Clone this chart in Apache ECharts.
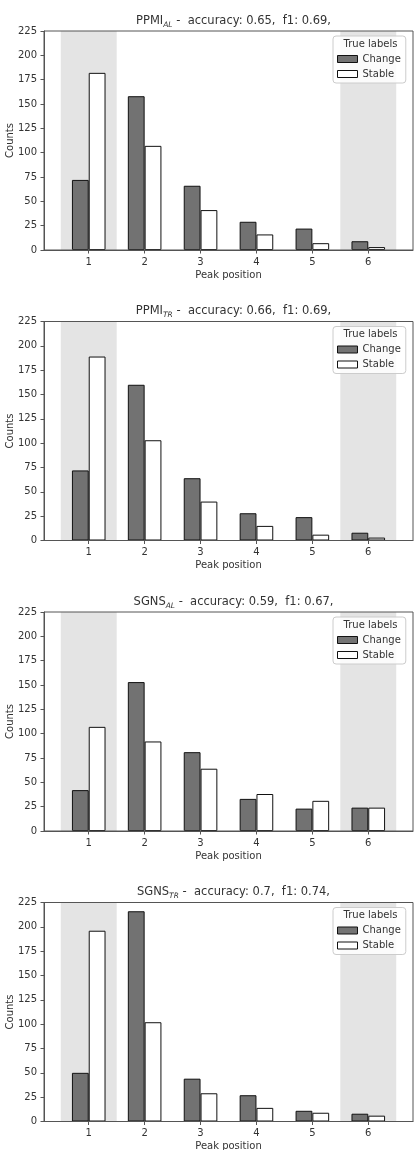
<!DOCTYPE html>
<html>
<head>
<meta charset="utf-8">
<script src="https://cdn.jsdelivr.net/npm/echarts@6/dist/echarts.min.js"></script>
<style>
  html, body { margin: 0; padding: 0; background: #fff; }
  #main { width: 419px; height: 1150px; }
</style>
</head>
<body>
<div id="main"></div>
<script>
// 数据
const peaks = [1, 2, 3, 4, 5, 6];
const yTicks = [0, 225, 25]; // min, max, interval
const spans = [[0.5, 1.5], [5.5, 6.5]];
const legendNames = ['Change', 'Stable'];

const models = ['PPMI', 'PPMI', 'SGNS', 'SGNS'];
const subs = ['AL', 'TR', 'AL', 'TR'];
const accuracy = ['0.65', '0.66', '0.59', '0.7'];
const f1 = ['0.69', '0.69', '0.67', '0.74'];

const ppmiAlChange = [72, 158, 66, 29, 22, 9];
const ppmiAlStable = [182, 107, 41, 16, 7, 3];
const ppmiTrChange = [72, 160, 64, 28, 24, 8];
const ppmiTrStable = [189, 103, 40, 15, 6, 3];
const sgnsAlChange = [42, 153, 81, 33, 23, 24];
const sgnsAlStable = [107, 92, 64, 38, 31, 24];
const sgnsTrChange = [50, 216, 44, 27, 11, 8];
const sgnsTrStable = [196, 102, 29, 14, 9, 6];

const changeData = [ppmiAlChange, ppmiTrChange, sgnsAlChange, sgnsTrChange];
const stableData = [ppmiAlStable, ppmiTrStable, sgnsAlStable, sgnsTrStable];

// 布局
const font = 'DejaVu Sans';
const gridTops = [31, 321.5, 612, 902.5];
const gridLeft = 44;
const gridWidth = 369;
const gridHeight = 219;
const spineColor = '#555';
const textColor = '#333';

const chart = echarts.init(document.getElementById('main'), null, { renderer: 'canvas' });

let grids = [], xAxes = [], yAxes = [], series = [], titles = [], legends = [], graphics = [];

gridTops.forEach((top, i) => {
  grids.push({
    left: gridLeft, top: top, width: gridWidth, height: gridHeight,
    containLabel: false, outerBoundsMode: 'none',
    show: true, z: 10,
    backgroundColor: 'transparent',
    borderColor: spineColor, borderWidth: 1
  });

  xAxes.push({
    type: 'value', gridIndex: i,
    min: 0.2, max: 6.8,
    name: 'Peak position', nameLocation: 'middle', nameGap: 20, nameMoveOverlap: false,
    nameTextStyle: { fontFamily: font, fontSize: 10, color: textColor },
    splitLine: { show: false },
    axisLine: { show: true, lineStyle: { color: spineColor, width: 1 } },
    axisTick: { show: true, length: 3.5, customValues: peaks, lineStyle: { color: spineColor } },
    axisLabel: { customValues: peaks, margin: 7, fontFamily: font, fontSize: 10, color: textColor }
  });

  yAxes.push({
    type: 'value', gridIndex: i,
    min: yTicks[0], max: yTicks[1], interval: yTicks[2],
    name: 'Counts', nameLocation: 'middle', nameGap: 29, nameMoveOverlap: false,
    nameTextStyle: { fontFamily: font, fontSize: 10, color: textColor },
    splitLine: { show: false },
    axisLine: { show: true, lineStyle: { color: spineColor, width: 1 } },
    axisTick: { show: true, length: 3.5, lineStyle: { color: spineColor } },
    axisLabel: { margin: 7, fontFamily: font, fontSize: 10, color: textColor }
  });

  // 灰色背景区域
  series.push({
    name: 'span' + i, type: 'bar', xAxisIndex: i, yAxisIndex: i,
    data: [], z: 1, silent: true,
    markArea: {
      silent: true,
      itemStyle: { color: '#e4e4e4' },
      data: spans.map(s => [{ xAxis: s[0] }, { xAxis: s[1] }])
    }
  });

  series.push({
    name: 'Change', type: 'bar', xAxisIndex: i, yAxisIndex: i,
    barWidth: 16.8, barGap: '0%', z: 3,
    itemStyle: { color: '#727272', borderColor: '#111', borderWidth: 1 },
    data: peaks.map((p, k) => [p, changeData[i][k]])
  });
  series.push({
    name: 'Stable', type: 'bar', xAxisIndex: i, yAxisIndex: i,
    barWidth: 16.8, barGap: '0%', z: 3,
    itemStyle: { color: '#fff', borderColor: '#111', borderWidth: 1 },
    data: peaks.map((p, k) => [p, stableData[i][k]])
  });

  titles.push({
    text: `{n|${models[i]}}{s|${subs[i]}}{n| -  accuracy: ${accuracy[i]},  f1: ${f1[i]},}`,
    left: gridLeft + gridWidth / 2, top: top - 23, textAlign: 'center',
    textStyle: {
      fontWeight: 'normal',
      rich: {
        n: { fontFamily: font, fontSize: 11.5, fontWeight: 'normal', color: textColor, lineHeight: 16 },
        s: { fontFamily: font, fontSize: 7.5, fontWeight: 'normal', fontStyle: 'italic', color: textColor, lineHeight: 16, verticalAlign: 'bottom', padding: [5, 0, 0, 0] }
      }
    }
  });

  legends.push({
    data: legendNames, orient: 'vertical',
    left: 333, top: top + 5,
    padding: [17, 5, 3, 4], itemGap: 3,
    itemWidth: 20, itemHeight: 7, icon: 'rect',
    itemStyle: { borderWidth: 1 },
    backgroundColor: 'rgba(255,255,255,0.85)',
    borderColor: '#ccc', borderWidth: 1, borderRadius: 3,
    textStyle: { fontFamily: font, fontSize: 10, color: textColor, lineHeight: 12 },
    selectedMode: false, z: 20
  });

  graphics.push({
    type: 'text', z: 30,
    x: 370.5, y: top + 13,
    style: { text: 'True labels', fontFamily: font, fontSize: 10, fill: textColor, align: 'center', verticalAlign: 'middle' }
  });
});

let option = {
  animation: false,
  backgroundColor: '#fff',
  title: titles,
  legend: legends,
  grid: grids,
  xAxis: xAxes,
  yAxis: yAxes,
  series: series,
  graphic: graphics
};

chart.setOption(option);
</script>
</body>
</html>
